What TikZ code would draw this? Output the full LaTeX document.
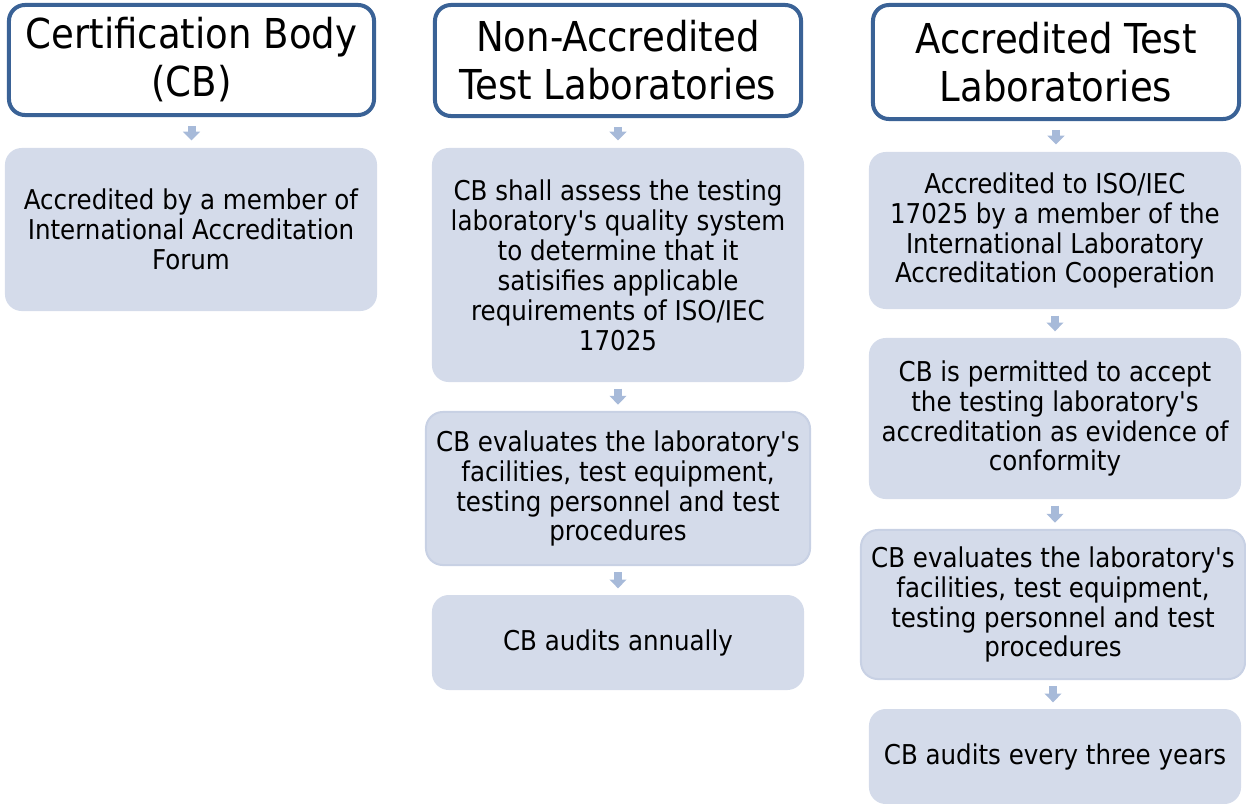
\documentclass[tikz,border=0pt]{standalone}
\usepackage{fontspec}
\setmainfont{DejaVu Sans Condensed}
\usetikzlibrary{arrows.meta}

\definecolor{headblue}{HTML}{3A6296}
\definecolor{boxfill}{HTML}{D4DBEA}
\definecolor{boxline}{HTML}{C8D1E4}
\definecolor{arrowblue}{HTML}{A7BAD9}
\newcommand{\q}{\textquotesingle}

\tikzset{
	head/.style={draw=headblue, line width=0.1cm, fill=white, rounded corners=0.4cm,
		align=center, inner sep=0pt, font=\fontsize{29.3}{34.1}\selectfont},
	step box/.style={fill=boxfill, rounded corners=0.42cm, align=center, inner sep=0pt,
		font=\fontsize{19.4}{21.3}\selectfont},
	wide box/.style={step box, draw=boxline, line width=0.05cm},
	flow/.style={draw=arrowblue, line width=0.2cm, -{Triangle[width=0.42cm,length=0.22cm]}},
	first/.style={flow, shorten <=0.22cm, shorten >=0.18cm},
	next/.style={flow, shorten <=0.16cm, shorten >=0.16cm}
}

\begin{document}
\begin{tikzpicture}[x=0.025cm, y=-0.025cm]
	\useasboundingbox (0,0) rectangle (1246,803);
	% column headers
	\node[head, minimum width=9.125cm, minimum height=2.75cm] (hcb) at (191.5,60) {Certification Body\\(CB)};
	\node[head, minimum width=9.15cm, minimum height=2.775cm] (hnon) at (618,60.5) {Non-Accredited\\Test Laboratories};
	\node[head, minimum width=9.15cm, minimum height=2.85cm] (hacc) at (1056,62) {Accredited Test\\Laboratories};
	% certification body
	\node[step box, minimum width=9.3cm, minimum height=4.075cm] (b1) at (191,229.5)
		{Accredited by a member of\\International Accreditation\\Forum};
	% non-accredited labs
	\node[step box, minimum width=9.3cm, minimum height=5.85cm] (n1) at (618,265)
		{CB shall assess the testing\\laboratory\q s quality system\\to determine that it\\satisifies applicable\\requirements of ISO/IEC\\17025};
	\node[wide box, minimum width=9.6cm, minimum height=3.825cm] (n2) at (618,488.5)
		{CB evaluates the laboratory\q s\\facilities, test equipment,\\testing personnel and test\\procedures};
	\node[step box, minimum width=9.3cm, minimum height=2.375cm] (n3) at (618,642.5) {CB audits annually};
	% accredited labs
	\node[step box, minimum width=9.3cm, minimum height=3.925cm] (a1) at (1055,230.5)
		{Accredited to ISO/IEC\\17025 by a member of the\\International Laboratory\\Accreditation Cooperation};
	\node[step box, minimum width=9.3cm, minimum height=4.025cm] (a2) at (1055,418.5)
		{CB is permitted to accept\\the testing laboratory\q s\\accreditation as evidence of\\conformity};
	\node[wide box, minimum width=9.6cm, minimum height=3.725cm] (a3) at (1053,604.5)
		{CB evaluates the laboratory\q s\\facilities, test equipment,\\testing personnel and test\\procedures};
	\node[step box, minimum width=9.3cm, minimum height=2.375cm] (a4) at (1055,756.5) {CB audits every three years};
	% arrows
	\draw[first] (hcb.south) -- (hcb.south |- b1.north);
	\draw[first] (hnon.south) -- (hnon.south |- n1.north);
	\draw[next] (n1.south) -- (n1.south |- n2.north);
	\draw[next] (n2.south) -- (n2.south |- n3.north);
	\draw[first] (hacc.south) -- (hacc.south |- a1.north);
	\draw[next] (a1.south) -- (a1.south |- a2.north);
	\draw[next] (a2.south) -- (a2.south |- a3.north);
	\draw[next] (a3.south) -- (a3.south |- a4.north);
\end{tikzpicture}
\end{document}
